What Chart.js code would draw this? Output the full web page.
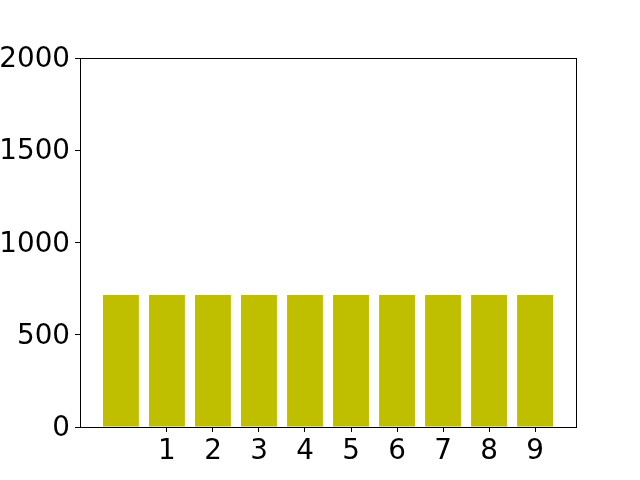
<!DOCTYPE html>
<html>
<head>
<meta charset="utf-8">
<script src="https://cdn.jsdelivr.net/npm/chart.js@4/dist/chart.umd.min.js"></script>
<style>
html,body{margin:0;padding:0;background:#fff;}
#wrap{width:640px;height:480px;position:relative;}
</style>
</head>
<body>
<div id="wrap"><canvas id="c" width="640" height="480"></canvas></div>
<script>
const positions = [0, 1, 2, 3, 4, 5, 6, 7, 8, 9];
const values = [715, 715, 715, 715, 715, 715, 715, 715, 715, 715];
const xTickValues = [1, 2, 3, 4, 5, 6, 7, 8, 9];
const xTickLabels = ['1', '2', '3', '4', '5', '6', '7', '8', '9'];
const yTickValues = [0, 500, 1000, 1500, 2000];
const yTickLabels = ['0', '500', '1000', '1500', '2000'];

const FONT = {family: '"DejaVu Sans"', size: 27.8};

const frame = {
  id: 'frame',
  afterDatasetsDraw(chart) {
    const a = chart.chartArea, ctx = chart.ctx;
    ctx.save();
    ctx.strokeStyle = '#000';
    ctx.lineWidth = 1;
    ctx.strokeRect(Math.round(a.left) + 0.5, Math.round(a.top) + 0.5, Math.round(a.right - a.left), Math.round(a.bottom - a.top));
    ctx.restore();
  }
};

new Chart(document.getElementById('c'), {
  type: 'bar',
  data: {
    datasets: [{
      data: positions.map((p, i) => ({x: p, y: values[i]})),
      backgroundColor: '#bfbf00',
      borderWidth: 0,
      barPercentage: 0.78,
      categoryPercentage: 1.0
    }]
  },
  options: {
    responsive: false,
    animation: false,
    devicePixelRatio: 1,
    layout: {padding: {left: 0, right: 64, top: 58, bottom: 0}},
    plugins: {legend: {display: false}, tooltip: {enabled: false}},
    scales: {
      x: {
        type: 'linear',
        min: -0.89,
        max: 9.89,
        offset: false,
        afterBuildTicks(s) { s.ticks = xTickValues.map(v => ({value: v})); },
        afterFit(s) { s.height = 53; },
        ticks: {
          autoSkip: false,
          maxRotation: 0,
          color: '#000',
          font: FONT,
          padding: 3,
          callback(v) { const i = xTickValues.indexOf(v); return i >= 0 ? xTickLabels[i] : null; }
        },
        grid: {offset: false, drawOnChartArea: false, drawTicks: true, tickLength: 5, color: '#000', lineWidth: 1},
        border: {display: true, color: '#000', width: 1}
      },
      y: {
        type: 'linear',
        min: 0,
        max: 2000,
        afterBuildTicks(s) { s.ticks = yTickValues.map(v => ({value: v})); },
        afterFit(s) { s.width = 80; },
        ticks: {
          color: '#000', font: FONT, padding: 5, labelOffset: 2,
          callback(v) { const i = yTickValues.indexOf(v); return i >= 0 ? yTickLabels[i] : null; }
        },
        grid: {drawOnChartArea: false, drawTicks: true, tickLength: 5, color: '#000', lineWidth: 1},
        border: {display: true, color: '#000', width: 1}
      }
    }
  },
  plugins: [frame]
});
</script>
</body>
</html>
